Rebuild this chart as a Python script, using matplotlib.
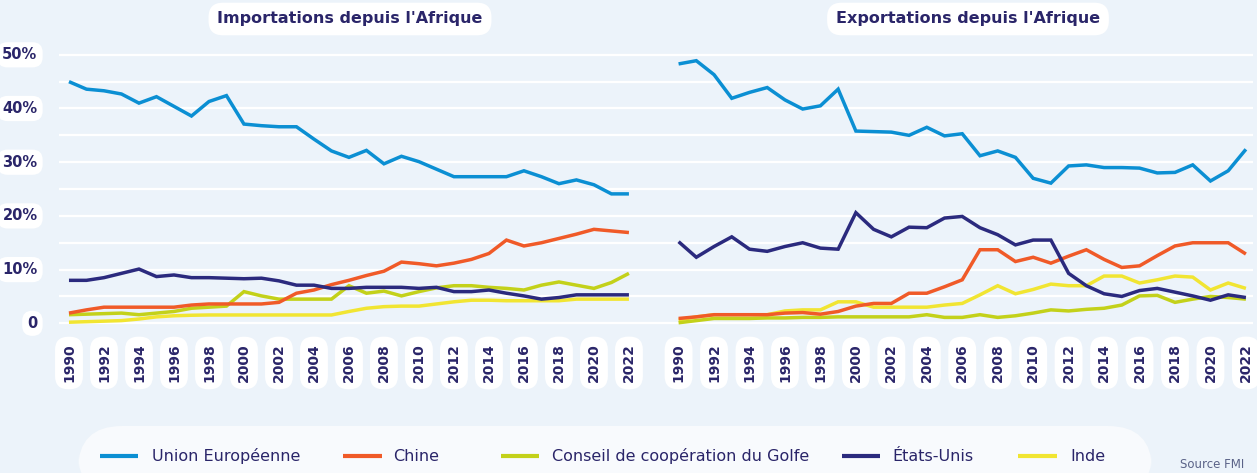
import matplotlib.pyplot as plt
from matplotlib.lines import Line2D
from matplotlib.patches import FancyBboxPatch

annees = list(range(1990, 2023))

# Importations depuis l'Afrique (% du total)
imp_ue = [45.0, 43.6, 43.3, 42.7, 41.0, 42.2, 40.4, 38.6, 41.3, 42.4, 37.1, 36.8, 36.6,
          36.6, 34.3, 32.1, 30.9, 32.2, 29.7, 31.1, 30.1, 28.7, 27.3, 27.3, 27.3, 27.3,
          28.4, 27.3, 26.0, 26.7, 25.8, 24.1, 24.1]
imp_chine = [1.9, 2.5, 3.0, 3.0, 3.0, 3.0, 3.0, 3.4, 3.6, 3.6, 3.6, 3.6, 3.9, 5.6, 6.2,
             7.2, 8.0, 8.9, 9.7, 11.4, 11.1, 10.7, 11.2, 11.9, 13.0, 15.5, 14.4, 15.0,
             15.8, 16.6, 17.5, 17.2, 16.9]
imp_ccg = [1.6, 1.7, 1.8, 1.9, 1.6, 1.9, 2.2, 2.8, 3.0, 3.2, 5.9, 5.1, 4.5, 4.5, 4.5, 4.5,
           7.0, 5.6, 6.0, 5.1, 5.9, 6.6, 7.0, 7.0, 6.7, 6.5, 6.2, 7.1, 7.7, 7.1, 6.5,
           7.6, 9.3]
imp_usa = [8.0, 8.0, 8.5, 9.3, 10.1, 8.7, 9.0, 8.5, 8.5, 8.4, 8.3, 8.4, 7.9, 7.1, 7.1,
           6.5, 6.5, 6.7, 6.7, 6.7, 6.5, 6.7, 5.9, 5.9, 6.2, 5.6, 5.1, 4.5, 4.8, 5.3,
           5.3, 5.3, 5.3]
imp_inde = [0.2, 0.3, 0.4, 0.5, 0.8, 1.2, 1.4, 1.5, 1.55, 1.55, 1.55, 1.55, 1.55, 1.55,
            1.55, 1.55, 2.2, 2.8, 3.1, 3.2, 3.2, 3.6, 4.0, 4.3, 4.3, 4.2, 4.2, 4.2, 4.2,
            4.5, 4.5, 4.5, 4.5]

# Exportations depuis l'Afrique (% du total)
exp_ue = [48.3, 48.9, 46.3, 41.9, 43.0, 43.9, 41.6, 39.9, 40.5, 43.6, 35.8, 35.7, 35.6,
          35.0, 36.5, 34.9, 35.3, 31.2, 32.1, 30.9, 27.0, 26.1, 29.3, 29.5, 29.0, 29.0,
          28.9, 28.0, 28.1, 29.5, 26.5, 28.4, 32.4]
exp_chine = [0.9, 1.2, 1.6, 1.6, 1.6, 1.6, 1.9, 2.0, 1.7, 2.2, 3.2, 3.7, 3.7, 5.6, 5.6,
             6.8, 8.1, 13.7, 13.7, 11.5, 12.3, 11.2, 12.5, 13.7, 11.9, 10.4, 10.7, 12.6,
             14.4, 15.0, 15.0, 15.0, 12.9]
exp_ccg = [0.1, 0.5, 0.9, 0.9, 0.9, 1.0, 1.0, 1.1, 1.1, 1.2, 1.2, 1.2, 1.2, 1.2, 1.6,
           1.1, 1.1, 1.6, 1.1, 1.4, 1.9, 2.5, 2.3, 2.6, 2.8, 3.4, 5.1, 5.2, 3.9, 4.5,
           5.0, 4.8, 4.5]
exp_usa = [15.2, 12.3, 14.3, 16.1, 13.8, 13.4, 14.3, 15.0, 14.0, 13.8, 20.6, 17.5, 16.1,
           17.9, 17.8, 19.6, 19.9, 17.8, 16.5, 14.6, 15.5, 15.5, 9.3, 7.0, 5.5, 5.0,
           6.1, 6.5, 5.8, 5.1, 4.3, 5.3, 4.8]
exp_inde = [0.6, 1.2, 1.6, 1.6, 1.6, 1.6, 2.3, 2.5, 2.5, 4.0, 4.0, 3.0, 3.0, 3.0, 3.0,
            3.4, 3.7, 5.3, 7.0, 5.5, 6.3, 7.3, 7.0, 7.0, 8.8, 8.8, 7.5, 8.1, 8.8, 8.6,
            6.2, 7.5, 6.5]

noms = ["Union Européenne", "Chine", "Conseil de coopération du Golfe", "États-Unis", "Inde"]
couleurs = ["#0b8fd3", "#f05a28", "#c3d11a", "#2b2a7e", "#f1e532"]
series_imp = [imp_ue, imp_chine, imp_ccg, imp_usa, imp_inde]
series_exp = [exp_ue, exp_chine, exp_ccg, exp_usa, exp_inde]
# ordre de dessin (le jaune en dessous)
ordre = [4, 2, 1, 3, 0]

fond = "#ecf3fa"
marine = "#2a2569"
W, H = 1257, 473

fig = plt.figure(figsize=(W / 100, H / 100), dpi=100)
fig.patch.set_facecolor(fond)

bas, haut = 330, 48
ax_g = fig.add_axes([59 / W, (H - bas) / H, 596 / W, (bas - haut) / H])
ax_d = fig.add_axes([655 / W, (H - bas) / H, 598 / W, (bas - haut) / H])

ylim = (-(bas - 323.3) / 5.37, (323.3 - haut) / 5.37)

def style_axe(ax, series, xlim):
    ax.set_facecolor("none")
    for s in ax.spines.values():
        s.set_visible(False)
    ax.set_xlim(*xlim)
    ax.set_ylim(*ylim)
    for y in range(0, 55, 5):
        ax.axhline(y, color="white", lw=1.6, zorder=1)
    ax.set_xticks([])
    ax.set_yticks([])
    for i in ordre:
        ax.plot(annees, series[i], color=couleurs[i], lw=2.5, zorder=3,
                solid_capstyle="butt", solid_joinstyle="miter", clip_on=False)
    for a in annees[::2]:
        ax.text(a, -0.117, str(a), rotation=90, ha="center", va="center",
                transform=ax.get_xaxis_transform(), fontsize=10, fontweight="bold",
                color=marine,
                bbox=dict(boxstyle="round,pad=0.5,rounding_size=0.95", fc="white", ec="none"))

style_axe(ax_g, series_imp, (1989.43, 2023.49))
style_axe(ax_d, series_exp, (1988.67, 2022.40))

for y in range(0, 60, 10):
    lab = "0" if y == 0 else f"{y}%"
    ax_g.text(-0.036, y, lab, ha="right", va="center", fontsize=10.5, fontweight="bold",
              color=marine, transform=ax_g.get_yaxis_transform(),
              bbox=dict(boxstyle="round,pad=0.35,rounding_size=0.7", fc="white", ec="none"))

for xc, titre in [(350, "Importations depuis l'Afrique"), (968, "Exportations depuis l'Afrique")]:
    fig.text(xc / W, (H - 19) / H, titre, ha="center", va="center", fontsize=11.5,
             fontweight="bold", color=marine,
             bbox=dict(boxstyle="round,pad=0.55,rounding_size=0.9", fc="white", ec="none"))

# légende
fig.patches.append(FancyBboxPatch((78 / W, -0.05), (1152 - 78) / W, (H - 426) / H + 0.05,
                                  boxstyle="round,pad=0,rounding_size=0.035",
                                  transform=fig.transFigure, fc="#f8fafd", ec="none",
                                  mutation_aspect=W / H, zorder=0))
pos_leg = [(100, 138, 152), (343, 382, 393), (501, 539, 552), (842, 880, 892), (1018, 1057, 1070)]
yl = (H - 456) / H
for (x0, x1, xt), nom, c in zip(pos_leg, noms, couleurs):
    fig.add_artist(Line2D([x0 / W, x1 / W], [yl, yl], color=c, lw=3,
                          solid_capstyle="butt", transform=fig.transFigure))
    fig.text(xt / W, yl, nom, ha="left", va="center", fontsize=11.5, color=marine)

fig.text(1180 / W, (H - 471) / H, "Source FMI", ha="left", va="bottom", fontsize=8.5,
         color="#5b6388")

fig.savefig("out.png", dpi=100, facecolor=fond)
